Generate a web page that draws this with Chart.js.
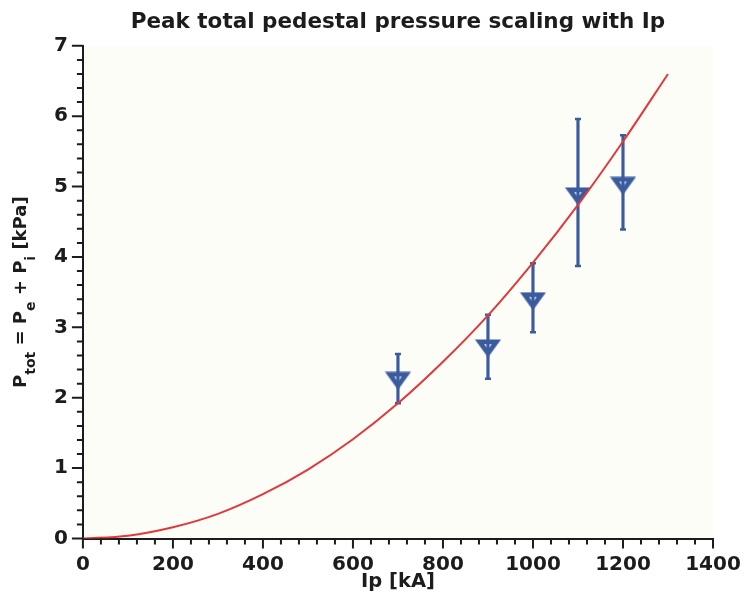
<!DOCTYPE html>
<html>
<head>
    <title>Peak total pedestal pressure scaling with Ip</title>
    <script src="https://cdn.jsdelivr.net/npm/chart.js"></script>
    <style>
        body { margin: 0; background: #ffffff; }
    </style>
</head>
<body>

    <canvas id="pedChart" width="749" height="597"></canvas>

    <script>
        // Measured points (Ip in kA, P_tot in kPa) with error bar ends
        var ipPoints = [700, 900, 1000, 1100, 1200];
        var pPeak = [2.24, 2.70, 3.37, 4.86, 5.01];
        var pLow = [1.92, 2.27, 2.93, 3.87, 4.39];
        var pHigh = [2.62, 3.18, 3.91, 5.96, 5.73];

        // Red scaling curve, every 100 kA
        var fitIp = [0, 100, 200, 300, 400, 500, 600, 700, 800, 900, 1000, 1100, 1200, 1300];
        var fitP = [0, 0.04, 0.16, 0.35, 0.63, 0.98, 1.41, 1.92, 2.51, 3.17, 3.92, 4.74, 5.64, 6.60];

        // Axis ranges and labelled ticks
        var xRange = [0, 1400];
        var xMajorStep = 200;
        var xMinorStep = 40;
        var yRange = [0, 7];
        var yMajorStep = 1;
        var yMinorStep = 0.2;

        var titleText = "Peak total pedestal pressure scaling with Ip";
        var xTitleText = "Ip [kA]";
        // y title pieces: [text, isSubscript]
        var yTitleParts = [["P", false], ["tot", true], [" = P", false], ["e", true], [" + P", false], ["i", true], [" [kPa]", false]];

        var blue = "#3a5b9e";
        var red = "#e2383b";
        var ink = "#1c1c1c";

        // Downward triangle marker with a small hollow centre
        function makeMarker() {
            var c = document.createElement("canvas");
            c.width = 27;
            c.height = 19;
            var g = c.getContext("2d");
            g.fillStyle = blue;
            g.beginPath();
            g.moveTo(0.5, 0.5);
            g.lineTo(26.5, 0.5);
            g.lineTo(13.5, 18.5);
            g.closePath();
            g.fill();
            // hole, scaled about the incentre
            var cx = 13.5, cy = 7.1, k = 0.28;
            g.globalCompositeOperation = "destination-out";
            g.beginPath();
            g.moveTo(cx + k * (0.5 - cx), cy + k * (0.5 - cy));
            g.lineTo(cx + k * (26.5 - cx), cy + k * (0.5 - cy));
            g.lineTo(cx + k * (13.5 - cx), cy + k * (18.5 - cy));
            g.closePath();
            g.fill();
            return c;
        }

        function isMajor(v, step) {
            var r = v / step;
            return Math.abs(r - Math.round(r)) < 1e-6;
        }

        var curveData = fitIp.map(function (x, i) { return { x: x, y: fitP[i] }; });
        var markerData = ipPoints.map(function (x, i) { return { x: x, y: pPeak[i] }; });
        var barData = ipPoints.map(function (x, i) { return { x: x, y: [pLow[i], pHigh[i]] }; });
        var capData = [];
        ipPoints.forEach(function (x, i) {
            capData.push({ x: x, y: pLow[i] });
            capData.push({ x: x, y: pHigh[i] });
        });

        // Plot background
        var areaBg = {
            id: "areaBg",
            beforeDraw: function (chart) {
                var a = chart.chartArea, ctx = chart.ctx;
                ctx.save();
                ctx.fillStyle = "#fdfdf8";
                ctx.fillRect(a.left, a.top, a.right - a.left, a.bottom - a.top);
                ctx.restore();
            }
        };

        // Outward tick marks, long for labelled ticks, short for the others
        var tickMarks = {
            id: "tickMarks",
            afterDraw: function (chart) {
                var ctx = chart.ctx;
                var xs = chart.scales.x, ys = chart.scales.y;
                ctx.save();
                ctx.strokeStyle = ink;
                ctx.lineWidth = 2;
                ctx.beginPath();
                xs.ticks.forEach(function (t) {
                    var px = xs.getPixelForValue(t.value);
                    var len = isMajor(t.value, xMajorStep) ? 10 : 6;
                    ctx.moveTo(px, xs.top);
                    ctx.lineTo(px, xs.top + len);
                });
                ys.ticks.forEach(function (t) {
                    var py = ys.getPixelForValue(t.value);
                    var len = isMajor(t.value, yMajorStep) ? 11 : 6;
                    ctx.moveTo(ys.right, py);
                    ctx.lineTo(ys.right - len, py);
                });
                ctx.stroke();
                ctx.restore();
            }
        };

        // Rotated y title with subscripts
        var yTitle = {
            id: "yTitle",
            afterDraw: function (chart) {
                var ctx = chart.ctx, a = chart.chartArea;
                var mainFont = "bold 18px 'DejaVu Sans'";
                var subFont = "bold 14px 'DejaVu Sans'";
                ctx.save();
                var total = 0;
                yTitleParts.forEach(function (p) {
                    ctx.font = p[1] ? subFont : mainFont;
                    total += ctx.measureText(p[0]).width;
                });
                ctx.translate(26, (a.top + a.bottom) / 2);
                ctx.rotate(-Math.PI / 2);
                ctx.fillStyle = ink;
                ctx.textBaseline = "alphabetic";
                var pos = -total / 2;
                yTitleParts.forEach(function (p) {
                    ctx.font = p[1] ? subFont : mainFont;
                    ctx.fillText(p[0], pos, p[1] ? 9 : 0);
                    pos += ctx.measureText(p[0]).width;
                });
                ctx.restore();
            }
        };

        var tickFont = { family: "'DejaVu Sans'", size: 20, weight: "bold", lineHeight: 0.73 };

        var chart = new Chart(document.getElementById("pedChart"), {
            type: "scatter",
            data: {
                datasets: [
                    {
                        type: "line",
                        label: "Scaling",
                        data: curveData,
                        borderColor: red,
                        borderWidth: 2,
                        pointRadius: 0,
                        cubicInterpolationMode: "monotone",
                        fill: false
                    },
                    {
                        label: "Peak pressure",
                        data: markerData,
                        pointStyle: makeMarker(),
                        pointRadius: 10
                    },
                    {
                        label: "Caps",
                        data: capData,
                        pointStyle: "line",
                        pointRadius: 3,
                        borderWidth: 2.5,
                        borderColor: blue
                    },
                    {
                        type: "bar",
                        label: "Error",
                        data: barData,
                        backgroundColor: blue,
                        barThickness: 2.5,
                        grouped: false
                    }
                ]
            },
            options: {
                responsive: false,
                animation: false,
                layout: {
                    padding: { left: 50, right: 36, top: 0, bottom: 0 }
                },
                plugins: {
                    legend: { display: false },
                    tooltip: { enabled: false },
                    title: {
                        display: true,
                        text: titleText,
                        fullSize: false,
                        color: ink,
                        font: { family: "'DejaVu Sans'", size: 21.5, weight: "bold", lineHeight: 1.2 },
                        padding: { top: 10, bottom: 10 }
                    }
                },
                scales: {
                    x: {
                        type: "linear",
                        min: xRange[0],
                        max: xRange[1],
                        offset: false,
                        grid: { display: false, drawTicks: true, tickLength: 19.4 },
                        border: { display: true, color: ink, width: 2 },
                        ticks: {
                            stepSize: xMinorStep,
                            autoSkip: false,
                            maxRotation: 0,
                            padding: 0,
                            color: ink,
                            font: tickFont,
                            callback: function (v) { return isMajor(v, xMajorStep) ? String(Math.round(v)) : ""; }
                        },
                        title: {
                            display: true,
                            text: xTitleText,
                            color: ink,
                            font: { family: "'DejaVu Sans'", size: 19.5, weight: "bold", lineHeight: 1 },
                            padding: { top: 0, bottom: 5 }
                        }
                    },
                    y: {
                        type: "linear",
                        min: yRange[0],
                        max: yRange[1],
                        grid: { display: false, drawTicks: true, tickLength: 11 },
                        border: { display: true, color: ink, width: 2 },
                        ticks: {
                            stepSize: yMinorStep,
                            autoSkip: false,
                            padding: 4,
                            color: ink,
                            font: tickFont,
                            callback: function (v) { return isMajor(v, yMajorStep) ? String(Math.round(v)) : ""; }
                        }
                    }
                }
            },
            plugins: [areaBg, tickMarks, yTitle]
        });
    </script>

</body>
</html>
